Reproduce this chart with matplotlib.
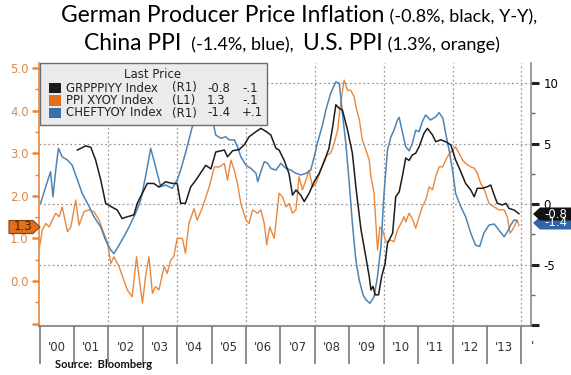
import matplotlib
matplotlib.use("Agg")
import matplotlib.pyplot as plt
from matplotlib.patches import Rectangle, Polygon

# ---- data (decimal year, value) ----
ger_x = [2001.10, 2001.34, 2001.49, 2001.63, 2001.78, 2001.92, 2002.07, 2002.26, 2002.40, 2002.55,
         2002.74, 2002.84, 2002.99, 2003.13, 2003.32, 2003.47, 2003.66, 2003.86, 2004.00, 2004.10,
         2004.24, 2004.39, 2004.56, 2004.83, 2004.98, 2005.12, 2005.37, 2005.46, 2005.61, 2005.80,
         2005.95, 2006.09, 2006.29, 2006.43, 2006.58, 2006.72, 2006.87, 2006.96, 2007.11, 2007.25,
         2007.35, 2007.45, 2007.59, 2007.69, 2007.83, 2007.98, 2008.12, 2008.27, 2008.41, 2008.51,
         2008.61, 2008.71, 2008.80, 2008.95, 2009.09, 2009.20, 2009.34, 2009.48, 2009.58, 2009.63,
         2009.69, 2009.75, 2009.85, 2009.94, 2010.04, 2010.11, 2010.26, 2010.35, 2010.45, 2010.55,
         2010.64, 2010.74, 2010.83, 2010.93, 2011.03, 2011.17, 2011.27, 2011.42, 2011.51, 2011.66,
         2011.80, 2011.95, 2012.09, 2012.24, 2012.38, 2012.53, 2012.63, 2012.72, 2012.87, 2013.01,
         2013.11, 2013.21, 2013.30, 2013.45, 2013.55, 2013.64, 2013.79, 2013.93]
ger_v = [4.46, 4.8, 4.69, 3.64, 1.98, 0.06, -0.2, -0.5, -1.2, -1.05,
         -0.9, 0.06, 0.9, 1.7, 1.7, 1.4, 1.84, 1.7, 1.7, 0.06,
         0.06, 1.4, 2.05, 3.2, 2.9, 4.3, 4.46, 3.9, 4.4, 4.5,
         4.9, 5.56, 5.98, 6.25, 6.0, 5.7, 4.6, 4.46, 3.6, 2.5,
         0.74, 1.16, 0.74, 0.2, 0.88, 1.84, 2.5, 3.5, 4.6, 6.25,
         8.2, 7.9, 7.77, 6.1, 4.2, 1.2, -2.1, -4.35, -6.0, -7.1,
         -6.8, -7.5, -7.5, -6.0, -4.9, -3.25, -2.4, 0.6, 1.0, 2.4,
         3.8, 3.6, 4.05, 4.2, 4.74, 5.84, 6.25, 5.7, 5.15, 5.3,
         5.15, 4.88, 3.64, 2.67, 1.7, 1.16, 0.6, 1.3, 1.3, 1.43,
         1.57, 0.74, 0.06, -0.08, 0.06, -0.36, -0.5, -0.8]

chn_x = [2000.03, 2000.18, 2000.32, 2000.39, 2000.47, 2000.55, 2000.66, 2000.81, 2000.95, 2001.10,
         2001.24, 2001.44, 2001.58, 2001.78, 2001.92, 2002.07, 2002.16, 2002.31, 2002.45, 2002.60,
         2002.79, 2002.94, 2003.08, 2003.23, 2003.32, 2003.42, 2003.52, 2003.66, 2003.86, 2004.00,
         2004.10, 2004.24, 2004.34, 2004.44, 2004.58, 2004.73, 2004.83, 2005.03, 2005.12, 2005.27,
         2005.41, 2005.51, 2005.66, 2005.75, 2005.85, 2006.00, 2006.14, 2006.29, 2006.34, 2006.43,
         2006.53, 2006.63, 2006.72, 2006.87, 2007.01, 2007.16, 2007.30, 2007.45, 2007.59, 2007.74,
         2007.88, 2007.98, 2008.07, 2008.22, 2008.32, 2008.46, 2008.61, 2008.71, 2008.80, 2008.90,
         2009.00, 2009.09, 2009.19, 2009.29, 2009.40, 2009.48, 2009.60, 2009.72, 2009.82, 2009.92,
         2010.01, 2010.11, 2010.21, 2010.30, 2010.40, 2010.45, 2010.55, 2010.64, 2010.74, 2010.83,
         2010.93, 2011.03, 2011.12, 2011.22, 2011.36, 2011.51, 2011.61, 2011.72, 2011.80, 2011.90,
         2012.00, 2012.09, 2012.24, 2012.38, 2012.53, 2012.67, 2012.79, 2012.91, 2013.06, 2013.21,
         2013.35, 2013.50, 2013.59, 2013.69, 2013.79, 2013.88]
chn_v = [0.06, 1.43, 2.67, 0.6, 2.8, 4.6, 3.9, 3.64, 3.2, 2.0,
         0.88, -0.2, -1.05, -1.9, -3.0, -3.8, -4.1, -3.4, -2.7, -1.9,
         -0.77, 0.33, 2.26, 4.6, 3.64, 2.54, 1.43, 1.57, 1.3, 2.0,
         2.8, 4.2, 5.3, 6.4, 6.9, 8.0, 8.5, 6.9, 5.7, 5.43,
         5.56, 5.3, 5.3, 4.74, 3.9, 3.2, 2.95, 2.54, 1.84, 2.67,
         3.5, 3.36, 2.95, 2.8, 3.36, 2.95, 2.8, 2.54, 2.4, 2.54,
         2.8, 3.9, 5.0, 6.5, 7.77, 9.15, 10.1, 9.97, 7.5, 5.0,
         1.7, -1.6, -4.6, -6.3, -7.5, -7.9, -8.2, -7.66, -6.0, -3.5,
         0.88, 4.46, 5.56, 6.1, 6.94, 7.16, 5.84, 4.74, 4.4, 5.0,
         6.1, 5.98, 6.8, 7.36, 6.94, 7.2, 7.55, 7.08, 5.84, 4.46,
         2.8, 0.88, -0.22, -1.05, -2.4, -3.4, -3.5, -2.4, -1.74, -1.65,
         -2.15, -2.7, -2.3, -1.74, -1.3, -1.4]

us_x = [2000.00, 2000.08, 2000.18, 2000.28, 2000.37, 2000.47, 2000.57, 2000.66, 2000.81, 2000.91,
        2001.05, 2001.15, 2001.29, 2001.44, 2001.58, 2001.73, 2001.87, 2001.97, 2002.07, 2002.16,
        2002.31, 2002.45, 2002.55, 2002.69, 2002.82, 2002.89, 2002.99, 2003.08, 2003.18, 2003.28,
        2003.37, 2003.47, 2003.62, 2003.71, 2003.81, 2003.90, 2004.00, 2004.15, 2004.24, 2004.34,
        2004.49, 2004.58, 2004.74, 2004.93, 2005.08, 2005.22, 2005.37, 2005.46, 2005.56, 2005.66,
        2005.75, 2005.85, 2006.00, 2006.09, 2006.19, 2006.34, 2006.43, 2006.53, 2006.60, 2006.69,
        2006.82, 2006.96, 2007.06, 2007.16, 2007.25, 2007.35, 2007.45, 2007.54, 2007.64, 2007.74,
        2007.83, 2007.93, 2008.03, 2008.17, 2008.27, 2008.36, 2008.46, 2008.56, 2008.66, 2008.75,
        2008.85, 2008.95, 2009.04, 2009.14, 2009.22, 2009.29, 2009.38, 2009.48, 2009.58, 2009.63,
        2009.72, 2009.82, 2009.89, 2009.97, 2010.06, 2010.21, 2010.30, 2010.40, 2010.50, 2010.59,
        2010.64, 2010.74, 2010.83, 2010.93, 2011.03, 2011.12, 2011.22, 2011.32, 2011.42, 2011.51,
        2011.61, 2011.71, 2011.85, 2012.00, 2012.09, 2012.19, 2012.29, 2012.38, 2012.53, 2012.63,
        2012.72, 2012.82, 2012.91, 2013.06, 2013.21, 2013.35, 2013.50, 2013.59, 2013.67, 2013.74,
        2013.81, 2013.88, 2013.93]
us_v = [0.8, 1.2, 1.35, 1.27, 1.43, 1.59, 1.51, 1.74, 1.16, 1.27,
        1.9, 1.31, 1.63, 1.67, 1.63, 1.43, 1.12, 0.92, 0.41, 0.57,
        0.34, 0.02, -0.21, -0.37, 0.57, 0.1, -0.52, 0.1, 0.57, -0.29,
        -0.13, -0.21, 0.34, 0.18, 0.49, 0.57, 1.0, 1.0, 0.65, 1.35,
        1.7, 1.43, 1.74, 2.21, 2.68, 2.68, 2.76, 2.37, 2.84, 2.6,
        2.29, 1.82, 1.43, 1.35, 1.67, 1.59, 1.67, 1.35, 0.85, 1.27,
        1.0, 2.06, 1.98, 1.74, 1.82, 1.59, 1.67, 2.45, 2.14, 2.37,
        2.6, 2.21, 2.29, 2.6, 2.84, 2.96, 3.0, 3.23, 3.54, 4.17,
        4.72, 4.48, 4.48, 4.33, 4.0, 3.8, 3.31, 3.08, 2.84, 2.45,
        2.06, 0.73, 1.27, 1.2, 0.92, 0.96, 0.92, 1.2, 1.35, 1.51,
        1.39, 1.59, 1.47, 1.24, 1.51, 1.74, 1.9, 2.21, 2.14, 2.45,
        2.68, 2.68, 2.92, 3.08, 3.15, 3.0, 2.84, 2.76, 2.68, 2.65,
        2.53, 2.29, 2.18, 1.82, 1.74, 1.67, 1.67, 1.51, 1.12, 1.2,
        1.31, 1.43, 1.3]

years = list(range(2000, 2015))
year_labels = ["'00", "'01", "'02", "'03", "'04", "'05", "'06", "'07", "'08", "'09",
               "'10", "'11", "'12", "'13"]
left_ticks = [-1, 0, 1, 2, 3, 4, 5]
left_labels = ["", "0.0", "1.0", "2.0", "3.0", "4.0", "5.0"]
right_ticks = [-10, -5, 0, 5, 10]
right_labels = ["", "-5", "0", "5", "10"]

legend_rows = [("GRPPPIYY Index", "(R1)", "-0.8", "-.1"),
               ("PPI XYOY Index", "(L1)", "1.3", "-.1"),
               ("CHEFTYOY Index", "(R1)", "-1.4", "+.1")]

BLACK = "#1c1c1c"
ORANGE = "#e8883e"
BLUE = "#4d84b5"
AXORANGE = "#d98a4c"

W, H = 571, 375
fig = plt.figure(figsize=(W / 100, H / 100), dpi=100)


def fx(px):
    return px / W


def fy(py):
    return 1 - py / H


ax = fig.add_axes([fx(38.5), fy(325.7), fx(531) - fx(38.5), fy(63) - fy(325.7)])
ax2 = ax.twinx()

ax.plot(us_x, us_v, color=ORANGE, lw=1.0, zorder=3)
ax2.plot(chn_x, chn_v, color=BLUE, lw=1.1, zorder=3)
ax2.plot(ger_x, ger_v, color=BLACK, lw=1.1, zorder=4)

ax.set_xlim(1999.97, 2014.28)
ax.set_ylim(-1.05, 5.12)
ax2.set_ylim(-10.05, 11.65)

# grid: horizontal on the right scale, vertical every two years
ax2.set_yticks(right_ticks, right_labels)
ax2.yaxis.grid(True, ls=(0, (1.5, 2)), color="#9a9a9a", lw=0.9)
for yr in years[2::2]:
    ax.axvline(yr, ls=(0, (1.5, 2)), color="#9a9a9a", lw=0.9, zorder=1)

# x axis
ax.set_xticks(years)
ax.set_xticklabels([])
ax.set_xticks([y + 0.5 for y in years[:-1]], minor=True)
ax.set_xticklabels(year_labels, minor=True, fontsize=8.5, color="#333333")
ax.tick_params(axis="x", which="major", length=27, width=1.2, color="#7a7a7a", direction="out")
ax.tick_params(axis="x", which="minor", length=0, pad=11)
fig.text(fx(531), fy(347), "'", fontsize=8.5, color="#333333", ha="left", va="center")

# left (orange) axis
ax.set_yticks(left_ticks, left_labels)
ax.set_yticks([v + 0.5 for v in left_ticks[:-1]], minor=True)
ax.tick_params(axis="y", which="major", length=5, width=1.8, color=ORANGE, labelcolor=AXORANGE,
               labelsize=8.5, pad=2)
ax.tick_params(axis="y", which="minor", length=3, width=1, color=ORANGE)

# right axis
ax2.set_yticks([-7.5, -2.5, 2.5, 7.5], minor=True)
ax2.tick_params(axis="y", which="major", length=6, width=2.2, color="#222222", labelsize=8.5,
                pad=3)
ax2.tick_params(axis="y", which="minor", length=3, width=1, color="#666666")

for a in (ax, ax2):
    a.spines["top"].set_visible(False)
ax.spines["right"].set_visible(False)
ax2.spines["left"].set_visible(False)
ax2.spines["bottom"].set_visible(False)
ax.spines["left"].set_color(ORANGE)
ax.spines["left"].set_linewidth(1.2)
ax.spines["bottom"].set_color("#7a7a7a")
ax.spines["bottom"].set_linewidth(1.2)
ax2.spines["right"].set_color("#8a8a8a")
ax2.spines["right"].set_linewidth(1.2)

# legend box
fig.add_artist(Rectangle((fx(40), fy(125)), fx(267) - fx(40), fy(63) - fy(125),
                         transform=fig.transFigure, facecolor="#ebebeb", edgecolor="#6e6e6e",
                         lw=1.0, zorder=10))
fig.text(fx(153), fy(75), "Last Price", fontsize=8.5, color="#222222", ha="center", va="center",
         zorder=11)
row_y = [88, 100.5, 113]
for (name, side, val, chg), col, yy in zip(legend_rows, [BLACK, "#e0701e", "#3a6faa"], row_y):
    fig.add_artist(Rectangle((fx(49), fy(yy + 5)), fx(61) - fx(49), fy(yy - 5) - fy(yy + 5),
                             transform=fig.transFigure, facecolor=col, edgecolor="none",
                             zorder=11))
    fig.text(fx(66), fy(yy), name, fontsize=8.5, color="#222222", va="center", zorder=11)
    fig.text(fx(172), fy(yy), side, fontsize=8.5, color="#222222", va="center", zorder=11)
    fig.text(fx(207), fy(yy), val, fontsize=8.5, color="#222222", va="center", zorder=11)
    fig.text(fx(242), fy(yy), chg, fontsize=8.5, color="#222222", va="center", zorder=11)


# last-value tags
def right_tag(yc, label, face):
    pts = [(533, yc), (540, yc - 6.5), (571, yc - 6.5), (571, yc + 6.5), (540, yc + 6.5)]
    fig.add_artist(Polygon([(fx(a), fy(b)) for a, b in pts], closed=True, transform=fig.transFigure,
                           facecolor=face, edgecolor="none", zorder=10, clip_on=False))
    fig.text(fx(556), fy(yc), label, fontsize=8.5, color="white", ha="center", va="center",
             zorder=11)


right_tag(223, "-1.4", "#2f66a8")
right_tag(214, "-0.8", "#111111")

yc = 227
pts = [(9, yc - 6.5), (33, yc - 6.5), (40, yc), (33, yc + 6.5), (9, yc + 6.5)]
fig.add_artist(Polygon([(fx(a), fy(b)) for a, b in pts], closed=True, transform=fig.transFigure,
                       facecolor="#e0701e", edgecolor="#8a4010", lw=0.8, zorder=10))
fig.text(fx(23), fy(yc), "1.3", fontsize=8.5, color="#3a2410", ha="center", va="center", zorder=11)

# title built from pieces of two sizes
renderer = fig.canvas.get_renderer()


def title_line(pieces, xc, ybase):
    texts = [fig.text(0, fy(ybase), s, fontsize=sz, family="Lato", va="baseline", color="black")
             for s, sz in pieces]
    widths = [t.get_window_extent(renderer).width for t in texts]
    x = xc - sum(widths) / 2
    for t, w in zip(texts, widths):
        t.set_x(fx(x))
        x += w


BIG, SMALL = 16.4, 13
title_line([("German Producer Price Inflation", BIG), ("\u00a0(-0.8%, black, Y-Y),", SMALL)], 299, 22)
title_line([("China PPI", BIG), ("\u00a0\u00a0(-1.4%, blue),\u00a0\u00a0", SMALL), ("U.S. PPI", BIG),
            ("\u00a0(1.3%, orange)", SMALL)], 292, 50)

fig.text(fx(55), fy(365), "Source:  Bloomberg", fontsize=8, fontweight="bold", color="#111111",
         va="center", family="Lato")

fig.savefig("out.png", dpi=100)
